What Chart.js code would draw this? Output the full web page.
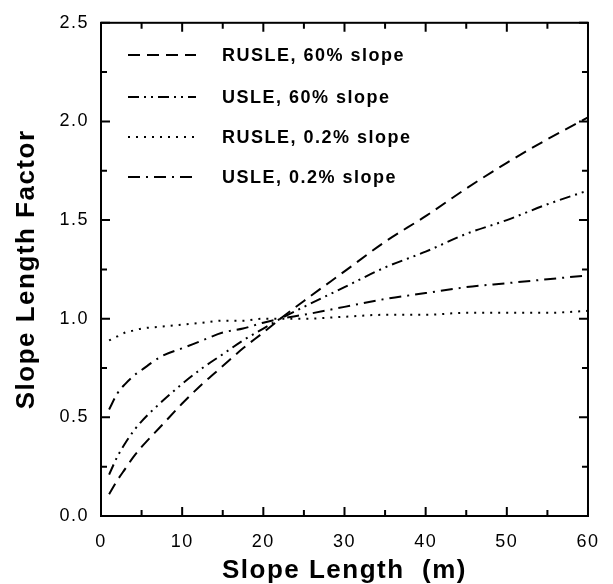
<!DOCTYPE html>
<html>
<head>
<meta charset="utf-8">
<script src="https://cdn.jsdelivr.net/npm/chart.js@4"></script>
<style>
  html, body { margin: 0; padding: 0; background: #fff; }
  #wrap { width: 613px; height: 584px; }
</style>
</head>
<body>
<div id="wrap"><canvas id="slChart" width="613" height="584"></canvas></div>
<script>
// slope length (m) sampled along the curves
const slopeLength = [1, 2, 3, 4, 5, 7.5, 10, 12.5, 15, 17.5, 20, 22.1, 25, 30, 35, 40, 45, 50, 55, 60];

const rusle60 = [0.11, 0.18, 0.24, 0.30, 0.35, 0.46, 0.57, 0.67, 0.76, 0.85, 0.93, 1.00, 1.09, 1.24, 1.39, 1.52, 1.66, 1.79, 1.91, 2.02];
const usle60 = [0.21, 0.30, 0.37, 0.43, 0.48, 0.58, 0.67, 0.75, 0.82, 0.89, 0.95, 1.00, 1.06, 1.16, 1.26, 1.34, 1.43, 1.50, 1.58, 1.65];
const rusle02 = [0.89, 0.91, 0.93, 0.94, 0.95, 0.96, 0.97, 0.98, 0.99, 0.99, 1.00, 1.00, 1.00, 1.01, 1.02, 1.02, 1.03, 1.03, 1.03, 1.04];
const usle02 = [0.54, 0.62, 0.67, 0.71, 0.74, 0.81, 0.85, 0.89, 0.93, 0.95, 0.98, 1.00, 1.02, 1.06, 1.10, 1.13, 1.16, 1.18, 1.20, 1.22];

const seriesLabels = ['RUSLE, 60% slope', 'USLE, 60% slope', 'RUSLE, 0.2% slope', 'USLE, 0.2% slope'];

const FONT = "'Liberation Sans', Arial, Helvetica, sans-serif";

function toPoints(ys) {
    return slopeLength.map((x, i) => ({ x: x, y: ys[i] }));
}

function line(label, ys, dash) {
    return {
        label: label,
        data: toPoints(ys),
        borderColor: '#000',
        borderWidth: 2,
        borderDash: dash,
        pointRadius: 0,
        fill: false,
        cubicInterpolationMode: 'monotone'
    };
}

// frame, inward ticks on all four sides, and letter spacing
const framePlugin = {
    id: 'frame',
    beforeDraw(chart) {
        chart.ctx.letterSpacing = '1.5px';
    },
    afterDraw(chart) {
        const ctx = chart.ctx;
        const a = chart.chartArea;
        const xs = chart.scales.x, ys = chart.scales.y;
        ctx.save();
        ctx.strokeStyle = '#000';
        ctx.lineWidth = 2;
        ctx.setLineDash([]);
        ctx.strokeRect(a.left, a.top, a.right - a.left, a.bottom - a.top);
        ctx.beginPath();
        for (let v = 0; v <= 60; v += 5) {
            const px = xs.getPixelForValue(v);
            const len = v % 10 === 0 ? 9 : 6;
            ctx.moveTo(px, a.bottom); ctx.lineTo(px, a.bottom - len);
            ctx.moveTo(px, a.top); ctx.lineTo(px, a.top + len);
        }
        for (let k = 0; k <= 10; k++) {
            const py = ys.getPixelForValue(k * 0.25);
            const len = k % 2 === 0 ? 9 : 6;
            ctx.moveTo(a.left, py); ctx.lineTo(a.left + len, py);
            ctx.moveTo(a.right, py); ctx.lineTo(a.right - len, py);
        }
        ctx.stroke();
        ctx.restore();
    }
};

// legend drawn inside the plot, top left
const insideLegend = {
    id: 'insideLegend',
    afterDatasetsDraw(chart) {
        const ctx = chart.ctx;
        const rowY = [55, 97, 137, 177];
        ctx.save();
        ctx.letterSpacing = '1.5px';
        chart.data.datasets.forEach((ds, i) => {
            const y = rowY[i];
            ctx.strokeStyle = '#000';
            ctx.lineWidth = 2;
            ctx.setLineDash(ds.borderDash);
            ctx.beginPath();
            ctx.moveTo(128, y);
            ctx.lineTo(196, y);
            ctx.stroke();
            ctx.setLineDash([]);
            ctx.fillStyle = '#000';
            ctx.font = 'bold 18px ' + FONT;
            ctx.textBaseline = 'middle';
            ctx.textAlign = 'left';
            ctx.fillText(ds.label, 222, y + 1);
        });
        ctx.restore();
    }
};

const ctx = document.getElementById('slChart').getContext('2d');

const chart = new Chart(ctx, {
    type: 'line',
    data: {
        datasets: [
            line(seriesLabels[0], rusle60, [12, 7]),
            line(seriesLabels[1], usle60, [11, 5, 2, 5, 2, 5]),
            line(seriesLabels[2], rusle02, [2, 6]),
            line(seriesLabels[3], usle02, [12, 6, 2, 6])
        ]
    },
    options: {
        responsive: false,
        animation: false,
        layout: { padding: { top: 17, right: 14, bottom: 0, left: 0 } },
        plugins: {
            legend: { display: false },
            tooltip: { enabled: false }
        },
        scales: {
            x: {
                type: 'linear',
                min: 0,
                max: 60,
                afterFit(scale) { scale.height = 68; },
                grid: { display: false, drawTicks: false },
                border: { display: false },
                ticks: {
                    stepSize: 10,
                    padding: 15,
                    color: '#000',
                    font: { family: FONT, size: 18 },
                    maxRotation: 0
                },
                title: {
                    display: true,
                    text: 'Slope Length  (m)',
                    color: '#000',
                    font: { family: FONT, size: 26, weight: 'bold' },
                    padding: { top: 0, bottom: -2 }
                }
            },
            y: {
                min: 0,
                max: 2.5,
                afterFit(scale) { scale.width = 101; },
                grid: { display: false, drawTicks: false },
                border: { display: false },
                ticks: {
                    stepSize: 0.5,
                    padding: 12,
                    color: '#000',
                    font: { family: FONT, size: 18 },
                    callback: (v) => v.toFixed(1)
                },
                title: {
                    display: true,
                    text: 'Slope Length Factor',
                    color: '#000',
                    font: { family: FONT, size: 26, weight: 'bold' },
                    padding: { top: 11, bottom: 0 }
                }
            }
        }
    },
    plugins: [framePlugin, insideLegend]
});
</script>
</body>
</html>
